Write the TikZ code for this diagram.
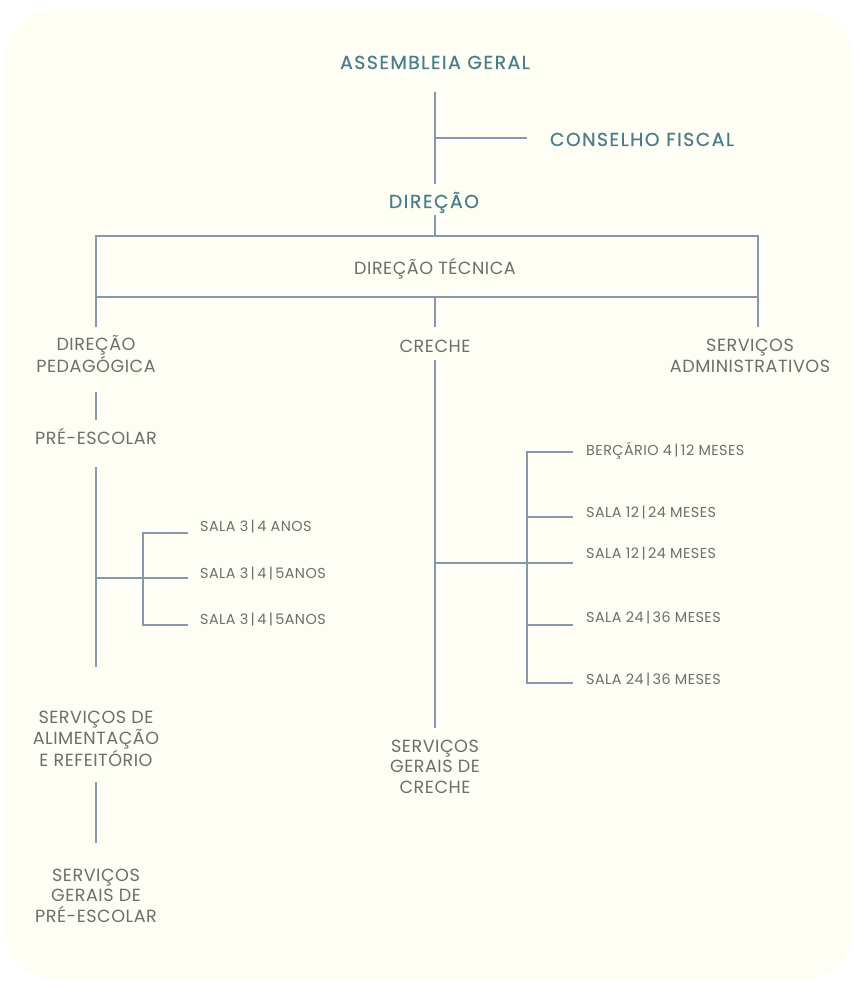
\documentclass[tikz,border=0pt]{standalone}
\usepackage{fontspec}
\setmainfont{Poppins}
\newfontfamily\grayfont{Poppins}[LetterSpace=3]
\newfontfamily\tealfontf{Poppins}[LetterSpace=8,FakeBold=0.5]
\definecolor{bgc}{HTML}{FEFEF4}
\definecolor{tealc}{HTML}{4A7D8A}
\definecolor{grayc}{HTML}{6E6E6E}
\definecolor{linec}{HTML}{8797AD}
\begin{document}
\begin{tikzpicture}[x=1pt,y=-1pt,
  conn/.style={draw=linec, line width=1.4pt},
  head/.style={inner sep=0pt, anchor=base, text=tealc, font=\tealfontf\fontsize{18.8}{22}\selectfont},
  unit/.style={inner sep=0pt, anchor=base, align=center, text=grayc, font=\grayfont\fontsize{17.6}{20.5}\selectfont},
  room/.style={inner sep=0pt, anchor=base west, text=grayc, font=\grayfont\fontsize{14.4}{16}\selectfont}]
\useasboundingbox (0,0) rectangle (853,981);
\fill[white] (0,0) rectangle (853,981);
\fill[bgc, rounded corners=50pt] (5,10) rectangle (853,979);

% top level
\node[head] (ag) at (435,69) {ASSEMBLEIA GERAL};
\node[head] (cf) at (642,146) {CONSELHO FISCAL};
\node[head] (dir) at (434,208) {DIREÇÃO};
\coordinate (a1) at (435,92);
\coordinate (a2) at (435,184);
\coordinate (cfj) at (435,138);
\coordinate (cfe) at (527,138);
\draw[conn] (a1) -- (a2);
\draw[conn] (cfj) -- (cfe);

% direcao tecnica box
\node[unit] (dt) at (435,274) {DIREÇÃO TÉCNICA};
\coordinate (d1) at (435,215);
\coordinate (d2) at (435,236);
\coordinate (bl) at (96,236);
\coordinate (br) at (758,236);
\coordinate (bbl) at (96,297);
\coordinate (bbr) at (758,297);
\coordinate (lend) at (96,327);
\coordinate (rend) at (758,327);
\coordinate (cb) at (435,297);
\coordinate (cend) at (435,327);
\draw[conn] (d1) -- (d2);
\draw[conn] (lend) -- (bl) -- (br) -- (rend);
\draw[conn] (bbl) -- (bbr);
\draw[conn] (cb) -- (cend);

% second level
\node[unit] (dp) at (96,372) {DIREÇÃO\\PEDAGÓGICA};
\node[unit] (cr) at (435,352) {CRECHE};
\node[unit] (sa) at (750,372) {SERVIÇOS\\ADMINISTRATIVOS};

% pre-escolar branch
\node[unit] (pe) at (96,444) {PRÉ-ESCOLAR};
\coordinate (p1) at (96,392);
\coordinate (p2) at (96,420);
\draw[conn] (p1) -- (p2);
\coordinate (p3) at (96,467);
\coordinate (p4) at (96,667);
\draw[conn] (p3) -- (p4);
\coordinate (pj) at (96,578);
\coordinate (pbt) at (143,533);
\coordinate (pbb) at (143,625);
\coordinate (pe1) at (188,533);
\coordinate (pe2) at (188,578);
\coordinate (pe3) at (188,625);
\draw[conn] (pj) -- (pe2);
\draw[conn] (pe1) -- (pbt) -- (pbb) -- (pe3);
\node[room] (s1) at (200,531) {SALA 3\,|\,4 ANOS};
\node[room] (s2) at (200,578) {SALA 3\,|\,4\,|\,5ANOS};
\node[room] (s3) at (200,624) {SALA 3\,|\,4\,|\,5ANOS};

\node[unit] (sar) at (96,766) {SERVIÇOS DE\\ALIMENTAÇÃO\\E REFEITÓRIO};
\coordinate (r1) at (96,782);
\coordinate (r2) at (96,843);
\draw[conn] (r1) -- (r2);
\node[unit] (sgp) at (96,922) {SERVIÇOS\\GERAIS DE\\PRÉ-ESCOLAR};

% creche branch
\coordinate (c1) at (435,360);
\coordinate (c2) at (435,728);
\draw[conn] (c1) -- (c2);
\coordinate (cj) at (435,563);
\coordinate (cbt) at (527,452);
\coordinate (cbb) at (527,683);
\coordinate (ce1) at (573,452);
\coordinate (ce2) at (573,517);
\coordinate (ce3) at (573,563);
\coordinate (ce4) at (573,625);
\coordinate (ce5) at (573,683);
\coordinate (cb2) at (527,517);
\coordinate (cb4) at (527,625);
\draw[conn] (cj) -- (ce3);
\draw[conn] (ce1) -- (cbt) -- (cbb) -- (ce5);
\draw[conn] (cb2) -- (ce2);
\draw[conn] (cb4) -- (ce4);
\node[room] (b1) at (586,455) {BERÇÁRIO 4\,|\,12 MESES};
\node[room] (b2) at (586,517) {SALA 12\,|\,24 MESES};
\node[room] (b3) at (586,558) {SALA 12\,|\,24 MESES};
\node[room] (b4) at (586,622) {SALA 24\,|\,36 MESES};
\node[room] (b5) at (586,684) {SALA 24\,|\,36 MESES};

\node[unit] (sgc) at (435,793) {SERVIÇOS\\GERAIS DE\\CRECHE};
\end{tikzpicture}
\end{document}
